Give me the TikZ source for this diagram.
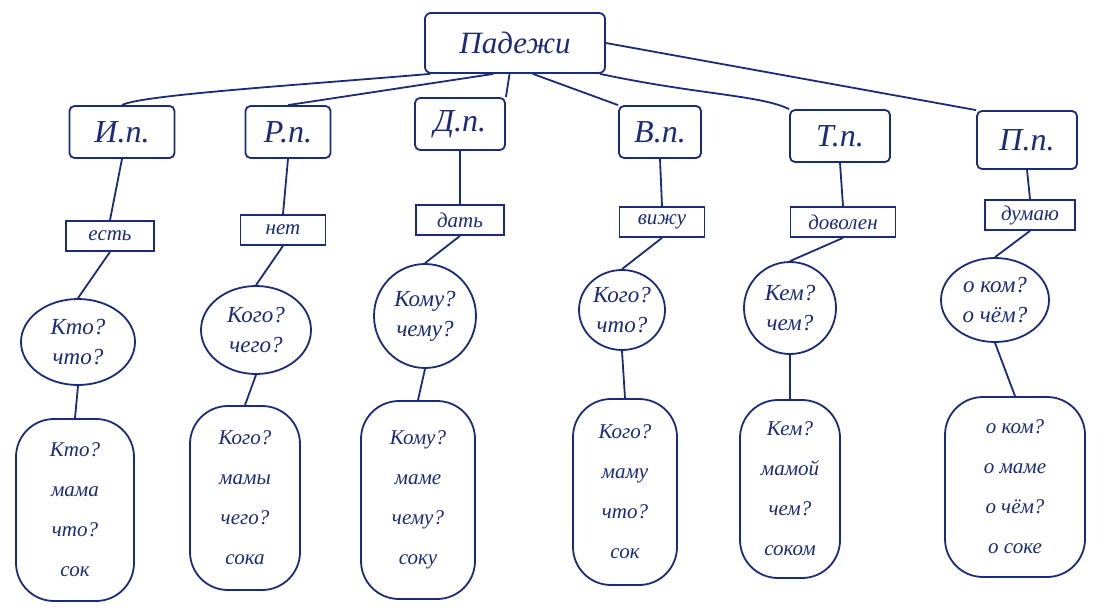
\documentclass[tikz,border=0pt]{standalone}
\usepackage{fontspec}
\setmainfont{Liberation Serif}
\usetikzlibrary{shapes.geometric}
\definecolor{ink}{HTML}{1C2A7A}
\begin{document}
\begin{tikzpicture}[x=1pt,y=-1pt,
  every node/.style={text=ink,font=\itshape},
  every path/.style={draw=ink,line width=1.8pt},
  topbox/.style={draw,rounded corners=6pt,minimum width=180pt,minimum height=60pt,font=\itshape\fontsize{31}{33}\selectfont},
  casebox/.style={draw,rounded corners=5pt,minimum height=52pt,font=\itshape\fontsize{32}{34}\selectfont},
  verbbox/.style={draw,minimum width=88pt,minimum height=30pt,inner sep=2pt,font=\itshape\fontsize{21}{23}\selectfont},
  qbox/.style={draw,ellipse,inner sep=0pt,align=center,font=\itshape\fontsize{23}{30}\selectfont},
  exbox/.style={draw,rounded corners=38pt,align=center,inner sep=4pt,font=\itshape\fontsize{21}{40}\selectfont}
]
\useasboundingbox[fill=white,draw=none] (0,0) rectangle (1118,612);
% top
\node[topbox] (top) at (515,43) {Падежи};
% cases
\node[casebox,minimum width=105pt] (c1) at (122,132) {И.п.};
\node[casebox,minimum width=85pt] (c2) at (288,132) {Р.п.};
\node[casebox,minimum width=90pt] (c3) at (460,124) {Д.п.};
\node[casebox,minimum width=82pt] (c4) at (660,132) {В.п.};
\node[casebox,minimum width=100pt] (c5) at (840,136) {Т.п.};
\node[casebox,minimum width=100pt,minimum height=58pt] (c6) at (1027,140) {П.п.};
% verbs
\node[verbbox] (v1) at (110,236) {есть};
\node[verbbox,minimum width=85pt] (v2) at (283,230) {нет};
\node[verbbox] (v3) at (460,220) {дать};
\node[verbbox,minimum width=85pt] (v4) at (662,222) {вижу};
\node[verbbox,minimum width=105pt] (v5) at (843,222) {доволен};
\node[verbbox,minimum width=90pt] (v6) at (1030,215) {думаю};
% questions
\node[qbox,minimum width=114pt,minimum height=86pt] (q1) at (78,342) {Кто?\\что?};
\node[qbox,minimum width=110pt,minimum height=88pt] (q2) at (256,330) {Кого?\\чего?};
\node[qbox,minimum width=102pt,minimum height=104pt] (q3) at (425,316) {Кому?\\чему?};
\node[qbox,minimum width=86pt,minimum height=80pt] (q4) at (622,310) {Кого?\\что?};
\node[qbox,minimum width=92pt,minimum height=92pt] (q5) at (790,308) {Кем?\\чем?};
\node[qbox,minimum width=108pt,minimum height=84pt] (q6) at (995,300) {о ком?\\о чём?};
% examples
\node[exbox,minimum width=118pt,minimum height=182pt] (e1) at (75,510) {Кто?\\мама\\что?\\сок};
\node[exbox,minimum width=110pt,minimum height=184pt] (e2) at (245,498) {Кого?\\мамы\\чего?\\сока};
\node[exbox,minimum width=114pt,minimum height=198pt] (e3) at (418,500) {Кому?\\маме\\чему?\\соку};
\node[exbox,minimum width=104pt,minimum height=186pt] (e4) at (625,492) {Кого?\\маму\\что?\\сок};
\node[exbox,minimum width=100pt,minimum height=178pt] (e5) at (790,489) {Кем?\\мамой\\чем?\\соком};
\node[exbox,minimum width=140pt,minimum height=180pt] (e6) at (1015,487) {о ком?\\о маме\\о чём?\\о соке};
% connectors from top
\draw (top.200) .. controls (300,85) and (140,95) .. (c1.north);
\draw (top.235) -- (c2.north);
\draw (top.260) -- (c3.north east);
\draw (top.300) -- (c4.north west);
\draw (top.340) .. controls (700,95) and (760,95) .. (c5.north west);
\draw (top.east) -- (c6.north west);
% vertical connectors
\foreach \i in {1,...,6}{
  \draw (c\i.south) -- (v\i.north);
  \draw (v\i.south) -- (q\i.north);
  \draw (q\i.south) -- (e\i.north);
}
\end{tikzpicture}
\end{document}
